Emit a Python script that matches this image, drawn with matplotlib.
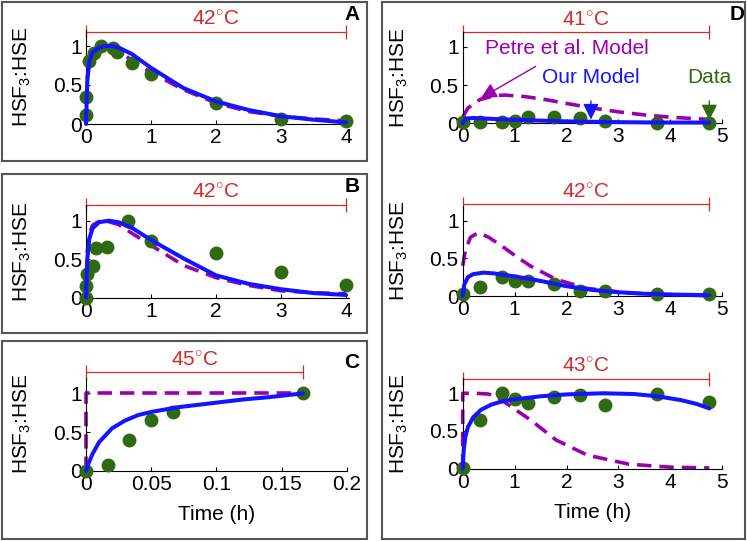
import matplotlib
matplotlib.use("Agg")
import matplotlib.pyplot as plt
from matplotlib.patches import Rectangle

plt.rcParams['font.family'] = ['Liberation Sans', 'DejaVu Sans']
plt.rcParams['mathtext.fontset'] = 'custom'
plt.rcParams['mathtext.rm'] = 'Liberation Sans'
plt.rcParams['mathtext.it'] = 'Liberation Sans:italic'
plt.rcParams['mathtext.bf'] = 'Liberation Sans:bold'

BLUE = '#1414ff'
PURPLE = '#9a00b0'
GREEN = '#2f6a12'
RED = '#d42a2a'
FS = 15

# ---- panel A (42 C)
a_dx = [0, 0, 0.05, 0.13, 0.23, 0.42, 0.48, 0.71, 1.0, 2.0, 3.0, 4.0]
a_dy = [0.115, 0.34, 0.81, 0.91, 1.0, 0.98, 0.92, 0.78, 0.64, 0.265, 0.064, 0.04]
a_bx = [0, 0.02, 0.05, 0.1, 0.2, 0.3, 0.4, 0.5, 0.7, 1.0, 1.5, 2.0, 2.5, 3.0, 3.5, 4.0]
a_by = [0, 0.55, 0.8, 0.92, 0.98, 1.0, 1.0, 0.98, 0.9, 0.72, 0.46, 0.29, 0.18, 0.1, 0.055, 0.02]
a_px = [0, 0.02, 0.05, 0.1, 0.2, 0.3, 0.4, 0.5, 0.7, 1.0, 1.5, 2.0, 2.5, 3.0, 3.5, 4.0]
a_py = [0, 0.6, 0.82, 0.93, 0.99, 1.0, 0.98, 0.94, 0.82, 0.66, 0.44, 0.27, 0.16, 0.1, 0.065, 0.04]

# ---- panel B (42 C)
b_dx = [0, 0, 0.02, 0.11, 0.15, 0.33, 0.65, 1.0, 2.0, 3.0, 4.0]
b_dy = [0, 0.15, 0.31, 0.41, 0.65, 0.66, 1.0, 0.74, 0.58, 0.34, 0.16]
b_bx = [0, 0.02, 0.05, 0.1, 0.2, 0.35, 0.5, 0.7, 1.0, 1.5, 2.0, 2.5, 3.0, 3.5, 4.0]
b_by = [0, 0.5, 0.76, 0.9, 0.98, 1.0, 0.98, 0.91, 0.75, 0.51, 0.29, 0.18, 0.11, 0.06, 0.035]
b_px = [0, 0.02, 0.05, 0.1, 0.2, 0.3, 0.5, 0.7, 1.0, 1.5, 2.0, 2.5, 3.0, 3.5, 4.0]
b_py = [0, 0.6, 0.83, 0.94, 0.99, 1.0, 0.95, 0.84, 0.68, 0.42, 0.26, 0.16, 0.09, 0.065, 0.05]

# ---- panel C (45 C)
c_dx = [0, 0.0167, 0.0333, 0.05, 0.0667, 0.1667]
c_dy = [0, 0.08, 0.40, 0.66, 0.755, 1.0]
c_bx = [0, 0.002, 0.005, 0.01, 0.02, 0.03, 0.04, 0.05, 0.06, 0.07, 0.08, 0.1, 0.12, 0.14, 0.1667]
c_by = [0, 0.1, 0.22, 0.37, 0.55, 0.65, 0.72, 0.76, 0.79, 0.82, 0.84, 0.88, 0.92, 0.95, 1.0]
c_px = [0, 0, 0.1667]
c_py = [0, 1, 1]

# ---- panel D, three temperatures
d_t = [0, 0.33, 0.75, 1.0, 1.25, 1.75, 2.25, 2.75, 3.75, 4.75]
d1_dy = [0.02, 0.02, 0.02, 0.035, 0.08, 0.08, 0.065, 0.035, 0.01, 0.01]
d1_bx = [0, 0.05, 0.2, 0.5, 1, 1.5, 2, 2.5, 3, 3.5, 4, 4.75]
d1_by = [0, 0.06, 0.07, 0.06, 0.045, 0.035, 0.025, 0.02, 0.015, 0.012, 0.01, 0.01]
d1_px = [0, 0.1, 0.33, 0.6, 0.8, 1.2, 1.6, 2.0, 2.5, 3.0, 3.5, 4.0, 4.75]
d1_py = [0.08, 0.2, 0.31, 0.36, 0.37, 0.35, 0.31, 0.26, 0.2, 0.15, 0.11, 0.08, 0.05]

d2_dy = [0.02, 0.12, 0.25, 0.2, 0.2, 0.155, 0.07, 0.07, 0.027, 0.027]
d2_bx = [0, 0.03, 0.1, 0.2, 0.4, 0.6, 1.0, 1.5, 2.0, 2.5, 3.0, 3.5, 4.0, 4.75]
d2_by = [0, 0.15, 0.25, 0.29, 0.31, 0.3, 0.26, 0.2, 0.13, 0.08, 0.05, 0.03, 0.02, 0.01]
d2_px = [0, 0.05, 0.15, 0.3, 0.5, 0.76, 1.0, 1.3, 1.8, 2.4, 3.2, 4.0, 4.75]
d2_py = [0.4, 0.6, 0.78, 0.84, 0.78, 0.66, 0.54, 0.4, 0.22, 0.1, 0.04, 0.015, 0.005]

d3_dy = [0.013, 0.64, 1.0, 0.92, 0.87, 0.955, 0.98, 0.84, 0.99, 0.89]
d3_bx = [0, 0.02, 0.05, 0.1, 0.2, 0.35, 0.55, 0.8, 1.0, 1.5, 2.0, 2.7, 3.3, 3.75, 4.2, 4.5, 4.75]
d3_by = [0, 0.25, 0.42, 0.55, 0.68, 0.78, 0.85, 0.9, 0.92, 0.96, 0.985, 1.0, 0.99, 0.96, 0.91, 0.86, 0.8]
d3_px = [0, 0, 0.25, 0.5, 0.75, 1.0, 1.3, 1.8, 2.4, 3.2, 4.0, 4.75]
d3_py = [0, 1, 1, 0.99, 0.91, 0.79, 0.65, 0.38, 0.18, 0.06, 0.02, 0.01]

W, H = 747, 541
fig = plt.figure(figsize=(W / 100, H / 100), dpi=100)


def px_axes(x0, x1, ytop, ybot):
    return fig.add_axes([x0 / W, 1 - ybot / H, (x1 - x0) / W, (ybot - ytop) / H])


def panel(ax, dx, dy, bx, by, px, py, xlim, xticks, temp, tend, ybar, xlabel=False):
    ax.plot(px, py, color=PURPLE, lw=2.6, ls=(0, (4, 2.2)), zorder=2, clip_on=False)
    ax.plot(dx, dy, 'o', color=GREEN, ms=9, mec=GREEN, zorder=3, clip_on=False)
    ax.plot(bx, by, color=BLUE, lw=2.9, zorder=4, clip_on=False, solid_capstyle='round')
    ax.plot([0, tend], [ybar, ybar], color=RED, lw=0.9, clip_on=False,
            marker='|', ms=10, mew=0.9)
    ax.text(tend / 2, ybar + 0.04, temp, color=RED, fontsize=FS, ha='center', va='bottom')
    ax.set_xlim(*xlim)
    ax.set_ylim(0, 1.2)
    ax.set_xticks(xticks)
    ax.set_xticklabels([('%g' % t) for t in xticks])
    ax.set_yticks([0, 0.5, 1])
    ax.set_yticklabels(['0', '0.5', '1'])
    for s in ['top', 'right']:
        ax.spines[s].set_visible(False)
    ax.spines['left'].set_linewidth(0.8)
    ax.spines['bottom'].set_linewidth(0.8)
    ax.tick_params(direction='in', length=3, width=0.8, labelsize=FS, pad=3)
    ax.set_ylabel('HSF$_3$:HSE', fontsize=FS, labelpad=14)
    if xlabel:
        ax.set_xlabel('Time (h)', fontsize=FS, labelpad=8)
    ax.patch.set_alpha(0)


axA = px_axes(86, 349.3, 30.4, 124)
panel(axA, a_dx, a_dy, a_bx, a_by, a_px, a_py, (0, 4.05), [0, 1, 2, 3, 4],
      '42$^{\\circ}$C', 4, 1.18)
axB = px_axes(86, 349.3, 205.3, 297.7)
panel(axB, b_dx, b_dy, b_bx, b_by, b_px, b_py, (0, 4.05), [0, 1, 2, 3, 4],
      '42$^{\\circ}$C', 4, 1.21)
axC = px_axes(86, 346.7, 377.8, 471)
panel(axC, c_dx, c_dy, c_bx, c_by, c_px, c_py, (0, 0.2), [0, 0.05, 0.1, 0.15, 0.2],
      '45$^{\\circ}$C', 0.1667, 1.27, xlabel=True)

axD1 = px_axes(462.7, 722.3, 31.7, 123.3)
panel(axD1, d_t, d1_dy, d1_bx, d1_by, d1_px, d1_py, (0, 5), [0, 1, 2, 3, 4, 5],
      '41$^{\\circ}$C', 4.75, 1.19)
axD2 = px_axes(462.7, 722.3, 205.6, 296)
panel(axD2, d_t, d2_dy, d2_bx, d2_by, d2_px, d2_py, (0, 5), [0, 1, 2, 3, 4, 5],
      '42$^{\\circ}$C', 4.75, 1.22)
axD3 = px_axes(462.7, 722.3, 378.2, 468.7)
panel(axD3, d_t, d3_dy, d3_bx, d3_by, d3_px, d3_py, (0, 5), [0, 1, 2, 3, 4, 5],
      '43$^{\\circ}$C', 4.75, 1.19, xlabel=True)

# annotations in the 41 C panel
axD1.annotate('Petre et al. Model', xy=(0.35, 0.33), xytext=(2.0, 0.98),
              color=PURPLE, fontsize=FS, ha='center', va='center',
              arrowprops=dict(arrowstyle='-|>', color=PURPLE, lw=1, mutation_scale=24,
                              shrinkA=8, shrinkB=0))
axD1.annotate('Our Model', xy=(2.47, 0.05), xytext=(2.47, 0.6),
              color=BLUE, fontsize=FS, ha='center', va='center',
              arrowprops=dict(arrowstyle='-|>', color=BLUE, lw=1, mutation_scale=24,
                              shrinkA=8, shrinkB=0))
axD1.annotate('Data', xy=(4.75, 0.04), xytext=(4.75, 0.6),
              color=GREEN, fontsize=FS, ha='center', va='center',
              arrowprops=dict(arrowstyle='-|>', color=GREEN, lw=1, mutation_scale=24,
                              shrinkA=8, shrinkB=0))

# panel letters
for lab, x, y in [('A', 352, 15), ('B', 352, 187), ('C', 352, 362), ('D', 737, 15)]:
    fig.text(x / W, 1 - y / H, lab, fontsize=FS, fontweight='bold', ha='center', va='center')

# frames around panels
for x0, y0, x1, y1 in [(2, 2, 367, 160.5), (2, 174.5, 367, 333), (2, 341, 367, 539),
                       (381.5, 2, 745, 539)]:
    fig.patches.append(Rectangle((x0 / W, 1 - y1 / H), (x1 - x0) / W, (y1 - y0) / H,
                                 transform=fig.transFigure, fill=False,
                                 edgecolor='#555555', lw=1.5))

fig.savefig('out.png', dpi=100)
